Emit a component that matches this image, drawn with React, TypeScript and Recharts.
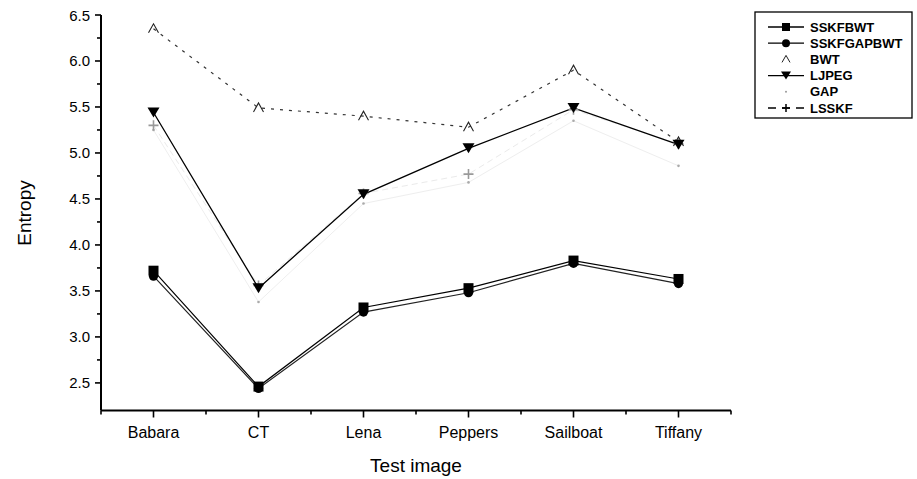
import { LineChart, Line, XAxis, YAxis } from "recharts";

const CATEGORIES = ["Babara", "CT", "Lena", "Peppers", "Sailboat", "Tiffany"];

const SSKFBWT = [3.72, 2.46, 3.32, 3.53, 3.83, 3.63];
const SSKFGAPBWT = [3.66, 2.44, 3.27, 3.48, 3.8, 3.58];
const BWT = [6.35, 5.49, 5.4, 5.28, 5.9, 5.12];
const LJPEG = [5.44, 3.53, 4.55, 5.05, 5.49, 5.09];
const GAP = [5.25, 3.38, 4.45, 4.68, 5.35, 4.86];
const LSSKF = [5.3, 3.56, 4.56, 4.77, 5.47, 5.1];

const Y_TICKS = [2.5, 2.75, 3, 3.25, 3.5, 3.75, 4, 4.25, 4.5, 4.75, 5, 5.25, 5.5, 5.75, 6, 6.25, 6.5];
const X_TICKS = [-0.5, 0, 0.5, 1, 1.5, 2, 2.5, 3, 3.5, 4, 4.5, 5, 5.5];

const data = CATEGORIES.map((name, i) => ({
  i,
  name,
  SSKFBWT: SSKFBWT[i],
  SSKFGAPBWT: SSKFGAPBWT[i],
  BWT: BWT[i],
  LJPEG: LJPEG[i],
  GAP: GAP[i],
  LSSKF: LSSKF[i],
}));

const FONT = "Arial, 'Liberation Sans', Helvetica, sans-serif";

// ---- markers ----
// eslint-disable-next-line @typescript-eslint/no-explicit-any
const Square = ({ cx, cy }: any) => (
  <rect x={cx - 5} y={cy - 5} width={10} height={10} fill="#000" />
);
// eslint-disable-next-line @typescript-eslint/no-explicit-any
const Circle = ({ cx, cy }: any) => <circle cx={cx} cy={cy} r={4.6} fill="#000" />;
// eslint-disable-next-line @typescript-eslint/no-explicit-any
const UpTri = ({ cx, cy }: any) => (
  <path d={`M${cx - 5},${cy + 4} L${cx},${cy - 5} L${cx + 5},${cy + 4}`} fill="none" stroke="#222" strokeWidth={1.1} />
);
// eslint-disable-next-line @typescript-eslint/no-explicit-any
const DownTri = ({ cx, cy }: any) => (
  <path d={`M${cx - 6},${cy - 5} L${cx + 6},${cy - 5} L${cx},${cy + 5} Z`} fill="#000" />
);
// eslint-disable-next-line @typescript-eslint/no-explicit-any
const Dot = ({ cx, cy }: any) => <circle cx={cx} cy={cy} r={1.3} fill="#aaa" />;
// eslint-disable-next-line @typescript-eslint/no-explicit-any
const Plus = ({ cx, cy }: any) => (
  <path d={`M${cx - 5},${cy} H${cx + 5} M${cx},${cy - 5} V${cy + 5}`} stroke="#999" strokeWidth={1.6} />
);

// ---- ticks ----
// eslint-disable-next-line @typescript-eslint/no-explicit-any
function YTick({ x, y, payload }: any) {
  const v = payload.value;
  const major = Math.abs(v * 2 - Math.round(v * 2)) < 1e-6;
  return (
    <g>
      <line x1={x - (major ? 6 : 4)} x2={x} y1={y} y2={y} stroke="#000" strokeWidth={1.6} />
      {major && (
        <text x={x - 11} y={y} textAnchor="end" dominantBaseline="central" fontSize={15} fontFamily={FONT} fill="#000">
          {v.toFixed(1)}
        </text>
      )}
    </g>
  );
}

// eslint-disable-next-line @typescript-eslint/no-explicit-any
function XTick({ x, y, payload }: any) {
  const v = payload.value;
  const major = Number.isInteger(v);
  return (
    <g>
      <line x1={x} x2={x} y1={y} y2={y + (major ? 7 : 4)} stroke="#000" strokeWidth={1.6} />
      {major && (
        <text x={x} y={y + 22} textAnchor="middle" dominantBaseline="central" fontSize={16} fontFamily={FONT} fill="#000">
          {CATEGORIES[v]}
        </text>
      )}
    </g>
  );
}

const LEGEND = [
  { label: "SSKFBWT", line: "solid", marker: "square" },
  { label: "SSKFGAPBWT", line: "solid", marker: "circle" },
  { label: "BWT", line: "none", marker: "up" },
  { label: "LJPEG", line: "solid", marker: "down" },
  { label: "GAP", line: "none", marker: "dot" },
  { label: "LSSKF", line: "dash", marker: "plus" },
];

function LegendMarker({ kind, cx, cy }: { kind: string; cx: number; cy: number }) {
  if (kind === "square") return <rect x={cx - 4} y={cy - 4} width={8} height={8} fill="#000" />;
  if (kind === "circle") return <circle cx={cx} cy={cy} r={4} fill="#000" />;
  if (kind === "up")
    return <path d={`M${cx - 4},${cy + 3} L${cx},${cy - 4} L${cx + 4},${cy + 3}`} fill="none" stroke="#222" strokeWidth={1} />;
  if (kind === "down") return <path d={`M${cx - 5},${cy - 4} L${cx + 5},${cy - 4} L${cx},${cy + 4} Z`} fill="#000" />;
  if (kind === "dot") return <circle cx={cx} cy={cy} r={1} fill="#999" />;
  return <path d={`M${cx - 4},${cy} H${cx + 4} M${cx},${cy - 4} V${cy + 4}`} stroke="#000" strokeWidth={1.5} />;
}

export default function App() {
  return (
    <div style={{ position: "absolute", left: 0, top: 0, width: 917, height: 479, background: "#fff" }}>
      <LineChart width={917} height={479} data={data} margin={{ top: 15, right: 186, left: 0, bottom: 0 }}>
        <XAxis
          dataKey="i"
          type="number"
          domain={[-0.5, 5.5]}
          ticks={X_TICKS}
          interval={0}
          height={68.5}
          tickSize={0}
          tickMargin={0}
          tickLine={false}
          axisLine={{ stroke: "#000", strokeWidth: 2 }}
          tick={<XTick />}
        />
        <YAxis
          type="number"
          domain={[2.2, 6.5]}
          ticks={Y_TICKS}
          interval={0}
          width={101}
          tickSize={0}
          tickMargin={0}
          tickLine={false}
          axisLine={{ stroke: "#000", strokeWidth: 2 }}
          tick={<YTick />}
        />
        <Line dataKey="GAP" type="linear" stroke="#eeeeee" strokeWidth={1} dot={<Dot />} isAnimationActive={false} />
        <Line dataKey="LSSKF" type="linear" stroke="#eaeaea" strokeWidth={1} strokeDasharray="6 4" dot={<Plus />} isAnimationActive={false} />
        <Line dataKey="BWT" type="linear" stroke="#333" strokeWidth={1.2} strokeDasharray="3 6" dot={<UpTri />} isAnimationActive={false} />
        <Line dataKey="SSKFGAPBWT" type="linear" stroke="#222" strokeWidth={1.2} dot={<Circle />} isAnimationActive={false} />
        <Line dataKey="SSKFBWT" type="linear" stroke="#000" strokeWidth={1.2} dot={<Square />} isAnimationActive={false} />
        <Line dataKey="LJPEG" type="linear" stroke="#000" strokeWidth={1.3} dot={<DownTri />} isAnimationActive={false} />
      </LineChart>

      <svg width={917} height={479} style={{ position: "absolute", left: 0, top: 0, pointerEvents: "none" }}>
        <text x={24} y={213} transform="rotate(-90 24 213)" textAnchor="middle" dominantBaseline="central" fontSize={19} fontFamily={FONT} fill="#000">
          Entropy
        </text>
        <text x={416} y={465} textAnchor="middle" dominantBaseline="central" fontSize={19} fontFamily={FONT} fill="#000">
          Test image
        </text>
        <rect x={755} y={12} width={157} height={106} fill="#fff" stroke="#000" strokeWidth={1.3} />
        {LEGEND.map((e, k) => {
          const cy = 27 + k * 16.2;
          return (
            <g key={e.label}>
              {e.line !== "none" && (
                <line x1={768} x2={804} y1={cy} y2={cy} stroke="#000" strokeWidth={1.3} strokeDasharray={e.line === "dash" ? "8 6" : undefined} />
              )}
              <LegendMarker kind={e.marker} cx={786} cy={cy} />
              <text x={810} y={cy} dominantBaseline="central" fontSize={13} fontWeight="bold" fontFamily={FONT} fill="#000">
                {e.label}
              </text>
            </g>
          );
        })}
      </svg>
    </div>
  );
}
